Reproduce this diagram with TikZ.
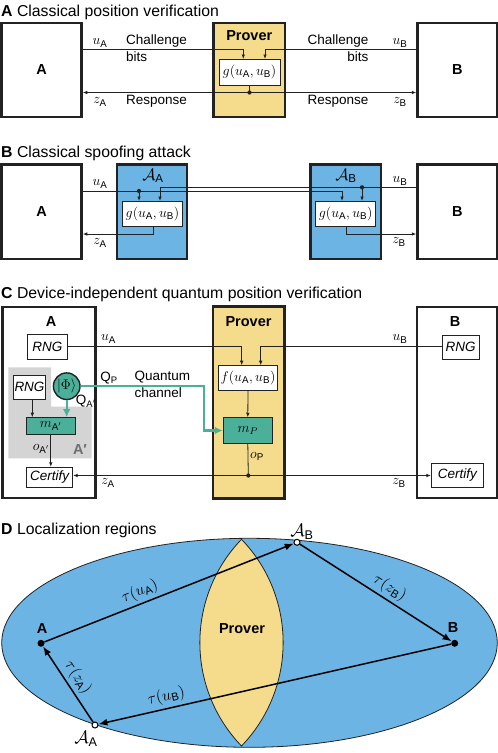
\documentclass[tikz,border=0pt]{standalone}
\usepackage{fix-cm}
\usepackage[no-math]{fontspec}
\setmainfont{Liberation Sans}
\usepackage{amsmath}
\usetikzlibrary{arrows.meta,calc}
\definecolor{provY}{HTML}{F5DC8C}
\definecolor{advB}{HTML}{6CB4E4}
\definecolor{qteal}{HTML}{4BB09A}
\definecolor{greyA}{HTML}{D4D4D4}
\definecolor{edge}{HTML}{222222}
\definecolor{greyT}{HTML}{6E6E6E}
\newcommand{\sfs}[1]{\text{#1}}
\begin{document}
\begin{tikzpicture}[x=1pt,y=-1pt,
  every node/.style={font=\fontsize{13.5}{15}\selectfont, inner sep=0pt},
  mth/.style={font=\fontsize{14}{16}\selectfont},
  ttl/.style={font=\fontsize{15.8}{18}\selectfont, anchor=base west},
  bigbox/.style={draw=edge, line width=2.5pt, inner sep=0pt, font=\fontsize{14.5}{16}\selectfont\bfseries},
  boxlbl/.style={font=\fontsize{14.5}{16}\selectfont\bfseries},
  smallbox/.style={draw=edge, line width=0.9pt, fill=white, inner sep=0pt},
  sig/.style={draw=edge, line width=0.8pt},
  arr/.style={sig, -{Latex[length=4.5pt,width=3.6pt]}},
  darr/.style={sig, {Latex[length=4.5pt,width=3.6pt]}-{Latex[length=4.5pt,width=3.6pt]}},
  qline/.style={draw=qteal, line width=2.2pt},
  qarr/.style={qline, -{Latex[length=8pt,width=7.5pt]}},
  dotnode/.style={circle, fill=edge, inner sep=0pt, minimum size=4.2pt},
  opendot/.style={circle, draw=black, line width=1pt, fill=white, inner sep=0pt, minimum size=6pt},
  larr/.style={draw=black, line width=1.5pt, -{Latex[length=9pt,width=7pt]}},
  taulbl/.style={font=\fontsize{16}{18}\selectfont, sloped, above=3pt}
]
\useasboundingbox (0,0) rectangle (498,753);
\fill[white] (0,0) rectangle (498,753);

% ---------------- Panel A ----------------
\node[ttl] (tA) at (1,16) {\textbf{A} Classical position verification};
\node[bigbox, minimum width=80pt, minimum height=94pt] (A1) at (41.5,69.75) {A};
\node[bigbox, minimum width=79.5pt, minimum height=94pt] (B1) at (457.25,69.75) {B};
\node[bigbox, fill=provY, minimum width=71.5pt, minimum height=94pt] (P1) at (249.25,69.75) {};
\node[boxlbl] (P1l) at (249.25,36) {Prover};
\coordinate (uA1) at (243.3,49);
\coordinate (uB1) at (265,49);
\coordinate (zd1) at (249.5,92.5);
\draw[arr] (A1.east |- uA1) -- (uA1) -- ++(0,10);
\draw[arr] (B1.west |- uB1) -- (uB1) -- ++(0,10);
\node[smallbox, mth, minimum width=61pt, minimum height=26pt] (g1) at (249.5,72) {$g(u_{\sfs{A}},u_{\sfs{B}})$};
\draw[darr] (A1.east |- zd1) -- (B1.west |- zd1);
\draw[sig] (g1.south) -- (zd1);
\node[dotnode] (d1) at (zd1) {};
\node[mth] (luA1) at (100,43) {$u_{\sfs{A}}$};
\node[anchor=west] (ch1) at (126,41) {Challenge};
\node[anchor=west] (bi1) at (126,57) {bits};
\node[anchor=east] (ch2) at (368.5,41) {Challenge};
\node[anchor=east] (bi2) at (368.5,57) {bits};
\node[mth] (luB1) at (400,43) {$u_{\sfs{B}}$};
\node[mth] (lzA1) at (100,102) {$z_{\sfs{A}}$};
\node[anchor=west] (re1) at (126,101) {Response};
\node[anchor=east] (re2) at (368.5,101) {Response};
\node[mth] (lzB1) at (400,102) {$z_{\sfs{B}}$};

% ---------------- Panel B ----------------
\node[ttl] (tB) at (1,157) {\textbf{B} Classical spoofing attack};
\node[bigbox, minimum width=80pt, minimum height=94.5pt] (A2) at (41.5,211.5) {A};
\node[bigbox, minimum width=79.5pt, minimum height=94.5pt] (B2) at (457.25,211.5) {B};
\node[bigbox, fill=advB, minimum width=70pt, minimum height=94.5pt] (AA2) at (152,211.5) {};
\node[bigbox, fill=advB, minimum width=70.5pt, minimum height=94.5pt] (AB2) at (345.75,211.5) {};
\node[font=\fontsize{16.5}{18}\selectfont] (lAA2) at (153,176) {$\mathcal{A}_{\sfs{A}}$};
\node[font=\fontsize{16.5}{18}\selectfont] (lAB2) at (346,176) {$\mathcal{A}_{\sfs{B}}$};
\coordinate (uA2d) at (139,191);
\coordinate (uA2t) at (342,191);
\coordinate (uB2d) at (362,187.3);
\coordinate (uB2t) at (160,187.3);
\draw[sig] (A2.east |- uA2d) -- (uA2t);
\draw[sig] (B2.west |- uB2d) -- (uB2t);
\draw[arr] (uA2d) -- ++(0,10);
\draw[arr] (uA2t) -- ++(0,10);
\draw[arr] (uB2d) -- ++(0,13.7);
\draw[arr] (uB2t) -- ++(0,13.7);
\node[dotnode] (d2a) at (uA2d) {};
\node[dotnode] (d2b) at (uB2d) {};
\node[smallbox, mth, minimum width=60pt, minimum height=25.5pt] (g2a) at (152.5,213.8) {$g(u_{\sfs{A}},u_{\sfs{B}})$};
\node[smallbox, mth, minimum width=60pt, minimum height=25.5pt] (g2b) at (345.7,213.8) {$g(u_{\sfs{A}},u_{\sfs{B}})$};
\coordinate (zA2) at (153,234);
\coordinate (zB2) at (346,234);
\draw[arr] (g2a.south -| zA2) -- (zA2) -- (A2.east |- zA2);
\draw[arr] (g2b.south -| zB2) -- (zB2) -- (B2.west |- zB2);
\node[mth] (luA2) at (100,184) {$u_{\sfs{A}}$};
\node[mth] (luB2) at (400,181) {$u_{\sfs{B}}$};
\node[mth] (lzA2) at (100,243) {$z_{\sfs{A}}$};
\node[mth] (lzB2) at (399,242) {$z_{\sfs{B}}$};

% ---------------- Panel C ----------------
\node[ttl] (tC) at (1,298) {\textbf{C} Device-independent quantum position verification};
\fill[greyA] (8.3,367.3) -- (51,367.3) -- (51,406.7) -- (91.7,406.7) -- (91.7,458.3) -- (8.3,458.3) -- cycle;
\node[bigbox, minimum width=93pt, minimum height=191pt] (A3) at (49,402.5) {};
\node[bigbox, minimum width=80pt, minimum height=191pt] (B3) at (457,402.5) {};
\node[bigbox, fill=provY, minimum width=71.5pt, minimum height=192pt] (P3) at (248.5,402.5) {};
\node[boxlbl] (A3l) at (51,322) {A};
\node[boxlbl] (P3l) at (248.5,322) {Prover};
\node[boxlbl] (B3l) at (455,322) {B};
\node[font=\fontsize{14.5}{16}\selectfont\bfseries, text=greyT] (Apl) at (80,450) {A′};
\node[smallbox, minimum width=40pt, minimum height=24.7pt] (rngA) at (47.3,346.7) {\itshape RNG};
\node[smallbox, minimum width=32.4pt, minimum height=24.3pt] (rngA2) at (29.5,387.2) {\itshape RNG};
\node[smallbox, minimum width=36.7pt, minimum height=24.3pt] (rngB) at (460.7,347.2) {\itshape RNG};
\node[circle, mth, draw=edge, line width=1.4pt, fill=qteal, minimum size=26.6pt] (phi) at (66.7,386.2) {$|\Phi\rangle$};
\node[smallbox, mth, fill=qteal, minimum width=48.3pt, minimum height=16.3pt] (mA) at (50.8,425.8) {$m_{\sfs{A}'}$};
\node[smallbox, minimum width=46pt, minimum height=20.4pt] (certA) at (49.7,477.5) {\itshape Certify};
\node[smallbox, minimum width=52pt, minimum height=24.4pt] (certB) at (457.3,475.5) {\itshape Certify};
\node[smallbox, mth, minimum width=59.4pt, minimum height=24.3pt] (f3) at (248,377.8) {$f(u_{\sfs{A}},u_{\sfs{B}})$};
\node[smallbox, mth, fill=qteal, minimum width=49pt, minimum height=25.6pt] (mP) at (247.8,430.5) {$m_P$};
\coordinate (uA3) at (241.7,346.5);
\coordinate (uB3) at (260.7,346.5);
\draw[arr] (rngA.east |- uA3) -- (uA3) -- (f3.north -| uA3);
\draw[arr] (rngB.west |- uB3) -- (uB3) -- (f3.north -| uB3);
\draw[arr] (f3.south) -- (mP.north);
\coordinate (rA2) at (32.3,0);
\draw[arr] (rngA2.south -| rA2) -- (mA.north -| rA2);
\draw[qarr] (phi.south) -- (mA.north -| phi.south);
\draw[arr] (mA.south) -- (certA.north -| mA.south);
\coordinate (qc) at (204.3,386.2);
\draw[qarr] (phi.east) -- (qc) |- (mP.west);
\coordinate (zd3) at (248.3,475.5);
\draw[sig] (mP.south) -- (zd3);
\draw[arr] (zd3) -- (certA.east |- zd3);
\draw[arr] (zd3) -- (certB.west |- zd3);
\node[dotnode] (d3) at (zd3) {};
\node[mth] (luA3) at (108.5,339) {$u_{\sfs{A}}$};
\node[mth] (luB3) at (400,339) {$u_{\sfs{B}}$};
\node (lQP) at (109,378) {Q$_{\sfs{P}}$};
\node[anchor=west] (lqu) at (134.3,377) {Quantum};
\node[anchor=west] (lch) at (134.3,393) {channel};
\node (lQA) at (86,401) {Q$_{\sfs{A}'}$};
\node[mth] (loA) at (41,449) {$o_{\sfs{A}'}$};
\node[mth] (loP) at (257,456.7) {$o_{\sfs{P}}$};
\node[mth] (lzA3) at (108,483) {$z_{\sfs{A}}$};
\node[mth] (lzB3) at (399,483) {$z_{\sfs{B}}$};

% ---------------- Panel D ----------------
\node[ttl] (tD) at (1,534) {\textbf{D} Localization regions};
\draw[fill=advB, draw=edge, line width=0.8pt] (249.5,642.8) ellipse (247.8 and 104.5);
\draw[fill=provY, draw=edge, line width=0.8pt] (241.5,539.3) .. controls (186,597) and (186,688.3) .. (241.5,746)
   .. controls (297,688.3) and (297,597) .. cycle;
\node[boxlbl] (PDl) at (242,629) {Prover};
\node[dotnode, fill=black, minimum size=7pt] (pA) at (41,643.3) {};
\node[dotnode, fill=black, minimum size=7pt] (pB) at (454.7,643.3) {};
\node[opendot] (pAA) at (95,725) {};
\node[opendot] (pAB) at (297,542.3) {};
\node[boxlbl] (lA) at (42,629) {A};
\node[boxlbl] (lB) at (453,628) {B};
\node[font=\fontsize{18}{20}\selectfont] (lAA) at (86,739) {$\mathcal{A}_{\sfs{A}}$};
\node[font=\fontsize{18}{20}\selectfont] (lAB) at (302,532) {$\mathcal{A}_{\sfs{B}}$};
\draw[larr] (pA) -- node[taulbl, pos=0.4] (tuA) {$\tau(u_{\sfs{A}})$} (pAB);
\draw[larr] (pAB) -- node[taulbl, pos=0.55] (tzB) {$\tau(z_{\sfs{B}})$} (pB);
\draw[larr] (pB) -- node[taulbl, pos=0.8] (tuB) {$\tau(u_{\sfs{B}})$} (pAA);
\draw[larr] (pAA) -- node[taulbl, pos=0.5] (tzA) {$\tau(z_{\sfs{A}})$} (pA);
\end{tikzpicture}
\end{document}
